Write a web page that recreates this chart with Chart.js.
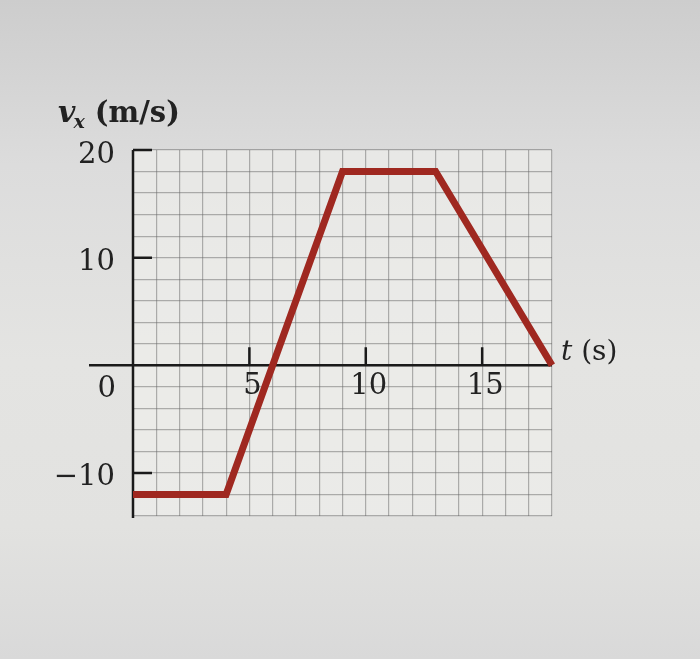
<!DOCTYPE html>
<html>
<head>
<meta charset="utf-8">
<script src="https://cdn.jsdelivr.net/npm/chart.js@4.4.1/dist/chart.umd.min.js"></script>
<style>
  html, body { margin: 0; padding: 0; overflow: hidden; }
  body {
    width: 700px; height: 659px;
    background: linear-gradient(#cdcdcd 0%, #dcdcdc 25%, #e4e4e2 55%, #e2e2e0 80%, #d9d9d9 100%);
  }
  #wrap { position: relative; width: 700px; height: 659px; }
</style>
</head>
<body>
<div id="wrap"><canvas id="chart"></canvas></div>
<script>
// velocity-time graph, values
const timeS = [0, 4, 9, 13, 18];
const velocity = [-12, -12, 18, 18, 0];

const xTickLabels = [5, 10, 15];
const yTickLabels = [20, 10, -10];

const TEXT = '#222222';
const SERIF = '"DejaVu Serif", "Liberation Serif", serif';

function fmt(v) {
  return v < 0 ? '\u2212' + Math.abs(v) : String(v);
}

// hand-drawn axes, tick marks and labels (textbook style)
const axesPlugin = {
  id: 'axesPlugin',
  beforeDraw(chart) {
    const { ctx, chartArea: a } = chart;
    ctx.save();
    ctx.fillStyle = 'rgba(240, 240, 236, 0.6)';
    ctx.fillRect(a.left, a.top, a.right - a.left, a.bottom - a.top);
    ctx.restore();
  },
  beforeDatasetsDraw(chart) {
    const { ctx, chartArea: a, scales: { x, y } } = chart;
    const x0 = x.getPixelForValue(0);
    const y0 = y.getPixelForValue(0);
    const xEnd = x.getPixelForValue(x.max);

    ctx.save();
    ctx.strokeStyle = '#1a1a1a';
    ctx.lineWidth = 2.5;
    ctx.beginPath();
    ctx.moveTo(x0 - 44, y0);
    ctx.lineTo(xEnd, y0);
    ctx.moveTo(x0, a.top);
    ctx.lineTo(x0, a.bottom + 2);
    yTickLabels.forEach(v => {
      const py = y.getPixelForValue(v);
      ctx.moveTo(x0, py);
      ctx.lineTo(x0 + 19, py);
    });
    xTickLabels.forEach(v => {
      const px = x.getPixelForValue(v);
      ctx.moveTo(px, y0);
      ctx.lineTo(px, y0 - 18);
    });
    ctx.stroke();

    ctx.fillStyle = TEXT;
    ctx.font = '29px ' + SERIF;
    ctx.textBaseline = 'middle';
    ctx.textAlign = 'right';
    yTickLabels.forEach(v => {
      ctx.fillText(fmt(v), x0 - 18, y.getPixelForValue(v) + 5);
    });
    ctx.fillText('0', x0 - 17, y0 + 24);
    ctx.textAlign = 'center';
    xTickLabels.forEach(v => {
      ctx.fillText(fmt(v), x.getPixelForValue(v) + 3, y0 + 21);
    });

    // t (s)
    ctx.textAlign = 'left';
    ctx.textBaseline = 'alphabetic';
    let tx = xEnd + 9;
    const ty = y0 - 5;
    ctx.font = 'italic 28px ' + SERIF;
    ctx.fillText('t', tx, ty);
    tx += ctx.measureText('t').width;
    ctx.font = '28px ' + SERIF;
    ctx.fillText(' (s)', tx, ty);

    // v_x (m/s)
    let vx = x0 - 75;
    const vy = a.top - 28;
    ctx.font = 'italic bold 30px ' + SERIF;
    ctx.fillText('v', vx, vy);
    vx += ctx.measureText('v').width - 2;
    ctx.font = 'italic bold 19px ' + SERIF;
    ctx.fillText('x', vx, vy + 6);
    vx += ctx.measureText('x').width;
    ctx.font = 'bold 29px ' + SERIF;
    ctx.fillText(' (m/s)', vx, vy);
    ctx.restore();
  }
};

new Chart(document.getElementById('chart'), {
  type: 'line',
  data: {
    datasets: [{
      label: 'v_x',
      data: timeS.map((t, i) => ({ x: t, y: velocity[i] })),
      borderColor: '#9f2820',
      borderWidth: 7,
      borderJoinStyle: 'miter',
      pointRadius: 0,
      tension: 0,
      fill: false,
      clip: false
    }]
  },
  options: {
    responsive: true,
    maintainAspectRatio: false,
    animation: false,
    layout: { padding: { left: 133, right: 148, top: 150, bottom: 143 } },
    plugins: {
      legend: { display: false },
      tooltip: { enabled: false }
    },
    scales: {
      x: {
        type: 'linear',
        min: 0,
        max: 18,
        border: { display: false },
        grid: { color: 'rgba(105, 105, 105, 0.5)', lineWidth: 1.2, drawTicks: false },
        ticks: { display: false, stepSize: 1 }
      },
      y: {
        type: 'linear',
        min: -14,
        max: 20,
        border: { display: false },
        grid: { color: 'rgba(105, 105, 105, 0.5)', lineWidth: 1.2, drawTicks: false },
        ticks: { display: false, stepSize: 2 }
      }
    }
  },
  plugins: [axesPlugin]
});
</script>
</body>
</html>
